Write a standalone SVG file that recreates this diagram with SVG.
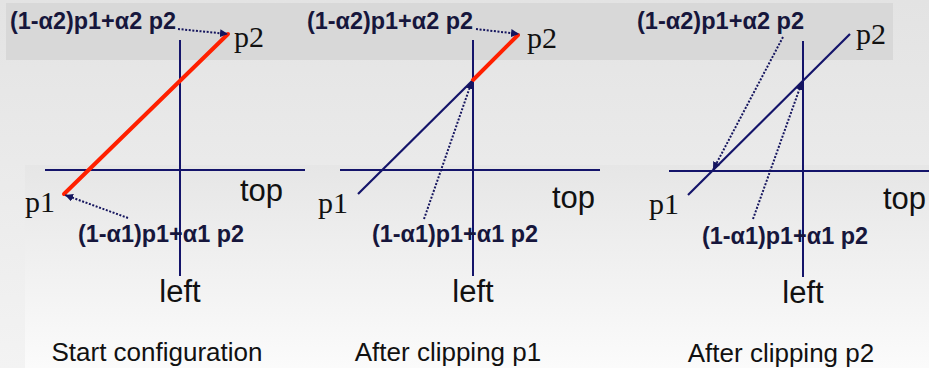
<svg xmlns="http://www.w3.org/2000/svg" width="929" height="368" viewBox="0 0 929 368">
<defs>
<linearGradient id="bg" x1="0" y1="0" x2="0" y2="1">
<stop offset="0" stop-color="#e3e3e3"/>
<stop offset="1" stop-color="#f3f3f3"/>
</linearGradient>
<linearGradient id="bg2" x1="0" y1="0" x2="0" y2="1">
<stop offset="0" stop-color="#e6e6e6"/>
<stop offset="1" stop-color="#fbfbfb"/>
</linearGradient>
<marker id="ah" markerUnits="userSpaceOnUse" markerWidth="9" markerHeight="8" refX="8" refY="4" orient="auto">
<path d="M0,0 L8,4 L0,8 Z" fill="#15155e"/>
</marker>
<style>
.ax{stroke:#14146a;stroke-width:2;fill:none}
.seg{stroke:#14146a;stroke-width:2.2;fill:none}
.red{stroke:#ff2000;stroke-width:4;fill:none;stroke-linecap:round}
.dot{stroke:#15155e;stroke-width:2;stroke-dasharray:2 1.6;fill:none;marker-end:url(#ah)}
.bold{font-family:"Liberation Sans",Arial,sans-serif;font-weight:bold;font-size:23px;fill:#16163c}
.pt{font-family:"Liberation Serif","Times New Roman",serif;font-size:30px;fill:#111}
.lab{font-family:"Liberation Sans",Arial,sans-serif;font-size:31px;fill:#111}
.cap{font-family:"Liberation Sans",Arial,sans-serif;font-size:26px;fill:#111;text-anchor:middle}
</style>
</defs>
<rect x="0" y="0" width="929" height="368" fill="url(#bg)"/>
<rect x="25" y="165" width="904" height="203" fill="url(#bg2)"/>
<rect x="6" y="3" width="887" height="57" fill="#d8d8d8"/>

<g id="connectors">
<line class="ax" x1="45" y1="170" x2="305" y2="170"/>
<line class="ax" x1="180" y1="40" x2="180" y2="276"/>
<line class="red" x1="64" y1="194" x2="228" y2="34"/>
<line class="dot" x1="178" y1="29" x2="228" y2="34"/>
<line class="dot" x1="128" y1="218" x2="65" y2="195"/>
<line class="ax" x1="340" y1="170" x2="600" y2="170"/>
<line class="ax" x1="473" y1="40" x2="473" y2="276"/>
<line class="seg" x1="358" y1="194" x2="473" y2="80"/>
<line class="red" x1="473" y1="80" x2="518" y2="35"/>
<line class="dot" x1="476" y1="29" x2="519" y2="34"/>
<line class="dot" x1="424" y1="219" x2="472" y2="81"/>
<line class="ax" x1="669" y1="171" x2="929" y2="171"/>
<line class="ax" x1="803" y1="41" x2="803" y2="277"/>
<line class="seg" x1="688" y1="195" x2="850" y2="34"/>
<line class="dot" x1="783" y1="37" x2="713" y2="170"/>
<line class="dot" x1="753" y1="219" x2="802" y2="82"/>
</g>

<g id="panel1">
<text class="bold" x="10" y="29" textLength="166" lengthAdjust="spacingAndGlyphs">(1-α2)p1+α2 p2</text>
<text class="pt" x="234" y="47">p2</text>
<text class="pt" x="25" y="212">p1</text>
<text class="lab" x="240" y="201">top</text>
<text class="bold" x="78" y="242" textLength="166" lengthAdjust="spacingAndGlyphs">(1-α1)p1+α1 p2</text>
<text class="lab" x="180" y="302" text-anchor="middle">left</text>
<text class="cap" x="157" y="361">Start configuration</text>
</g>

<g id="panel2">
<text class="bold" x="307" y="29" textLength="166" lengthAdjust="spacingAndGlyphs">(1-α2)p1+α2 p2</text>
<text class="pt" x="527" y="48">p2</text>
<text class="pt" x="318" y="213">p1</text>
<text class="lab" x="552" y="208">top</text>
<text class="bold" x="372" y="242" textLength="166" lengthAdjust="spacingAndGlyphs">(1-α1)p1+α1 p2</text>
<text class="lab" x="473" y="302" text-anchor="middle">left</text>
<text class="cap" x="448" y="361">After clipping p1</text>
</g>

<g id="panel3">
<text class="bold" x="637" y="29" textLength="167" lengthAdjust="spacingAndGlyphs">(1-α2)p1+α2 p2</text>
<text class="pt" x="856" y="44">p2</text>
<text class="pt" x="649" y="214">p1</text>
<text class="lab" x="883" y="209">top</text>
<text class="bold" x="702" y="244" textLength="166" lengthAdjust="spacingAndGlyphs">(1-α1)p1+α1 p2</text>
<text class="lab" x="803" y="303" text-anchor="middle">left</text>
<text class="cap" x="781" y="362">After clipping p2</text>
</g>
</svg>
